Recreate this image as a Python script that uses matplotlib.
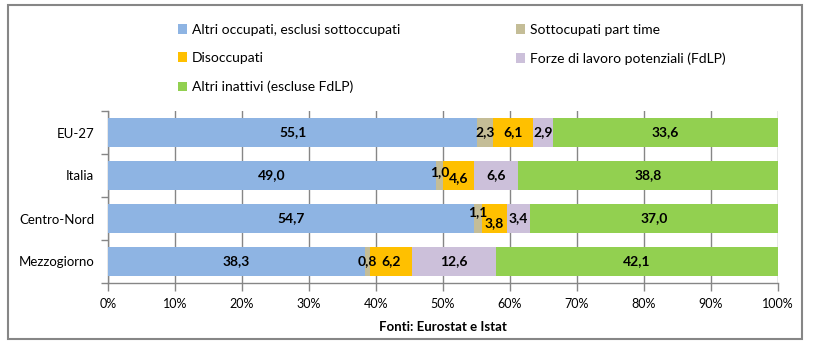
import matplotlib
matplotlib.use("Agg")
import matplotlib.pyplot as plt
from matplotlib.patches import Rectangle
import numpy as np

plt.rcParams['font.family'] = ['Lato', 'DejaVu Sans']

categories = ["EU-27", "Italia", "Centro-Nord", "Mezzogiorno"]
series_names = ["Altri occupati, esclusi sottoccupati", "Sottocupati part time",
                "Disoccupati", "Forze di lavoro potenziali (FdLP)",
                "Altri inattivi (escluse FdLP)"]
altri_occupati = [55.1, 49.0, 54.7, 38.3]
sottoccupati = [2.3, 1.0, 1.1, 0.8]
disoccupati = [6.1, 4.6, 3.8, 6.2]
fdlp = [2.9, 6.6, 3.4, 12.6]
inattivi = [33.6, 38.8, 37.0, 42.1]
xtick_labels = ["0%", "10%", "20%", "30%", "40%", "50%", "60%", "70%", "80%", "90%", "100%"]

colors = ["#8EB4E3", "#C4BD97", "#FFC000", "#CCC0DA", "#92D050"]
series = [altri_occupati, sottoccupati, disoccupati, fdlp, inattivi]

# vertical nudges (points, + = up) for crowded labels: (category index, series index) -> dy
label_nudge = {(1, 1): 2.5, (1, 2): -1.5, (2, 1): 4.5, (2, 2): -3.5}

fig = plt.figure(figsize=(8.14, 3.5), dpi=100)
ax = fig.add_axes([108/814, 1-283/350, (778-108)/814, (283-111)/350])

y = np.arange(len(categories))
left = np.zeros(len(categories))
for si, (vals, c, name) in enumerate(zip(series, colors, series_names)):
    vals = np.array(vals)
    ax.barh(y, vals, left=left, height=0.66, color=c, label=name, zorder=3)
    for ci, v in enumerate(vals):
        dy = label_nudge.get((ci, si), 0)
        ax.annotate(f"{v:.1f}".replace(".", ","), (left[ci] + v/2, y[ci]),
                    xytext=(0, dy), textcoords="offset points",
                    ha="center", va="center", fontsize=10, fontweight="bold",
                    color="black", zorder=4)
    left += vals

ax.set_xlim(0, 100)
ax.set_ylim(3.5, -0.5)
ax.set_xticks(np.arange(0, 101, 10))
ax.set_xticklabels(xtick_labels, fontsize=9)
ax.set_yticks(y)
ax.set_yticklabels(categories, fontsize=9.5)
ax.set_yticks(np.arange(-0.5, 4, 1), minor=True)
ax.tick_params(axis='y', which='major', length=0, pad=10)
ax.tick_params(axis='y', which='minor', length=5, color="#868686", width=1)
ax.tick_params(axis='x', which='major', length=6, color="#868686", width=1, pad=5)
ax.xaxis.grid(True, color="#868686", linewidth=1, zorder=0)
ax.set_axisbelow(True)
for s in ["top", "right"]:
    ax.spines[s].set_visible(False)
for s in ["left", "bottom"]:
    ax.spines[s].set_color("#868686")
    ax.spines[s].set_linewidth(1)

ax.set_xlabel("Fonti: Eurostat e Istat", fontsize=9.5, fontweight="bold", labelpad=8)

handles, labels = ax.get_legend_handles_labels()
row_order = [0, 2, 4, 1, 3]
leg = fig.legend([handles[i] for i in row_order], [labels[i] for i in row_order],
                 loc="upper left", bbox_to_anchor=(165/814, 1-11/350), ncol=2,
                 frameon=False, fontsize=10, handlelength=0.7, handleheight=0.7,
                 handletextpad=0.35, columnspacing=8.3, labelspacing=1.2)

fig.patches.append(Rectangle((8/814, 1-339/350), (802-8)/814, (339-5)/350,
                             transform=fig.transFigure, fill=False,
                             edgecolor="#868686", linewidth=1.5))

fig.savefig("out.png", dpi=100)
